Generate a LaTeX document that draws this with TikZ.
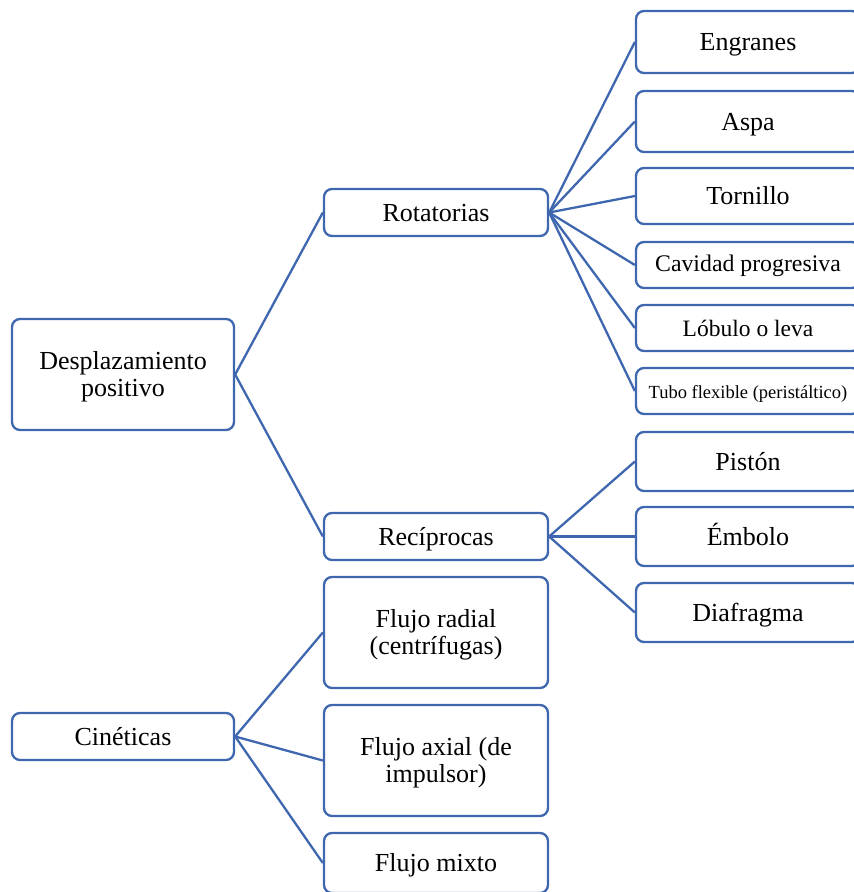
\documentclass[tikz,border=0pt]{standalone}
\usepackage{fontspec}
\setmainfont{Liberation Serif}
\definecolor{lblue}{HTML}{3F67AF}
\begin{document}
\begin{tikzpicture}[x=1pt,y=-1pt,
  box/.style={draw=lblue,line width=2.3pt,rounded corners=8pt,fill=white,
    inner sep=0pt,align=center,font=\fontsize{26}{27}\selectfont,
    text height=19pt,text depth=2pt},
  twoline/.style={text height=46pt,text depth=2pt},
  conn/.style={draw=lblue,line width=2.3pt}]
\useasboundingbox[clip] (0,0) rectangle (854,892);
% left column
\node[box,twoline,minimum width=222pt,minimum height=111pt] (dp) at (123,374.5) {Desplazamiento\\positivo};
\node[box,minimum width=222pt,minimum height=47pt] (cin) at (123,736.5) {Cinéticas};
% middle column
\node[box,minimum width=224pt,minimum height=47pt] (rot) at (436,212.5) {Rotatorias};
\node[box,minimum width=224pt,minimum height=47pt] (rec) at (436,536.5) {Recíprocas};
\node[box,twoline,minimum width=224pt,minimum height=111pt] (fr) at (436,632.5) {Flujo radial\\(centrífugas)};
\node[box,twoline,minimum width=224pt,minimum height=111pt] (fa) at (436,760.5) {Flujo axial (de\\impulsor)};
\node[box,minimum width=224pt,minimum height=60pt] (fm) at (436,863) {Flujo mixto};
% right column
\node[box,minimum width=224pt,minimum height=62pt] (eng) at (748,42) {Engranes};
\node[box,minimum width=224pt,minimum height=61pt] (asp) at (748,121.5) {Aspa};
\node[box,minimum width=224pt,minimum height=56pt] (tor) at (748,196) {Tornillo};
\node[box,minimum width=224pt,minimum height=46pt,font=\fontsize{23.8}{26}\selectfont,text height=15pt,text depth=1.6pt] (cav) at (748,265) {Cavidad progresiva};
\node[box,minimum width=224pt,minimum height=46pt,font=\fontsize{23.5}{26}\selectfont,text height=17pt,text depth=1pt] (lob) at (748,328) {Lóbulo o leva};
\node[box,minimum width=224pt,minimum height=46pt,font=\fontsize{18.5}{20}\selectfont,text height=15pt,text depth=1pt] (tub) at (748,391) {Tubo flexible (peristáltico)};
\node[box,minimum width=224pt,minimum height=59pt] (pis) at (748,461.5) {Pistón};
\node[box,minimum width=224pt,minimum height=59pt] (emb) at (748,536.5) {Émbolo};
\node[box,minimum width=224pt,minimum height=59pt] (dia) at (748,612.5) {Diafragma};
% connectors
\draw[conn] (dp.east) -- (rot.west);
\draw[conn] (dp.east) -- (rec.west);
\draw[conn] (cin.east) -- (fr.west);
\draw[conn] (cin.east) -- (fa.west);
\draw[conn] (cin.east) -- (fm.west);
\foreach \t in {eng,asp,tor,cav,lob,tub}{\draw[conn] (rot.east) -- (\t.west);}
\foreach \t in {pis,emb,dia}{\draw[conn] (rec.east) -- (\t.west);}
\end{tikzpicture}
\end{document}
